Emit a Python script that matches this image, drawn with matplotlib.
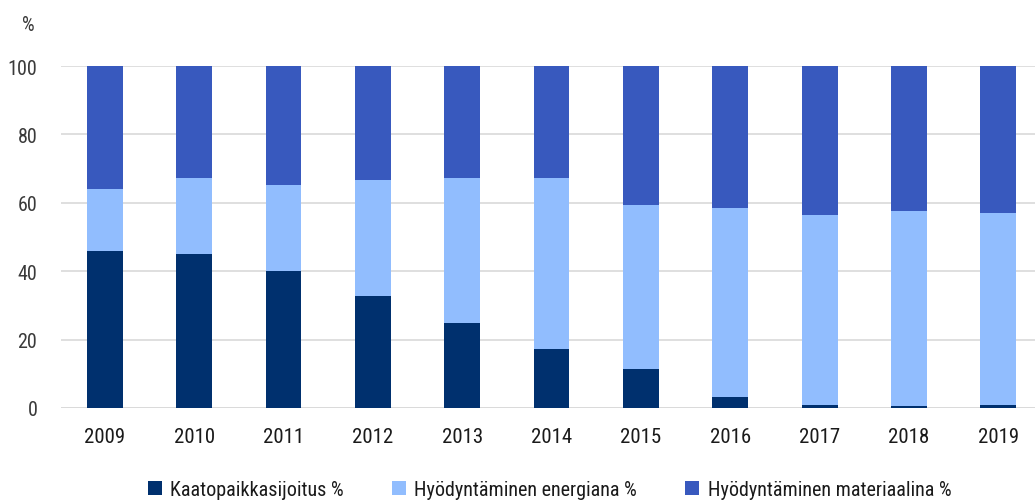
import matplotlib
matplotlib.use("Agg")
import matplotlib.pyplot as plt
import numpy as np

years = ["2009", "2010", "2011", "2012", "2013", "2014", "2015", "2016", "2017", "2018", "2019"]
kaatopaikka = [45.9, 45.0, 40.1, 32.7, 24.9, 17.3, 11.4, 3.2, 0.9, 0.6, 0.9]
energia = [18.1, 22.3, 25.1, 34.0, 42.4, 50.0, 48.0, 55.3, 55.5, 57.0, 56.1]
materiaali = [100 - a - b for a, b in zip(kaatopaikka, energia)]
series_names = ["Kaatopaikkasijoitus %", "Hyödyntäminen energiana %", "Hyödyntäminen materiaalina %"]
colors = ["#00306e", "#91bdfe", "#3859be"]
yticks = [0, 20, 40, 60, 80, 100]

plt.rcParams["font.family"] = ["Roboto Condensed", "DejaVu Sans"]

fig = plt.figure(figsize=(10.35, 5.02), dpi=100)
ax = fig.add_axes([0.0589, 0.1853, 0.9411, 0.6812])

x = np.arange(len(years))
w = 0.4
bottom = np.zeros(len(years))
for vals, c, n in zip([kaatopaikka, energia, materiaali], colors, series_names):
    ax.bar(x, vals, w, bottom=bottom, color=c, label=n, zorder=3)
    bottom += np.array(vals)

ax.set_xlim(-0.49, 10.41)
ax.set_ylim(0, 100)
ax.set_yticks(yticks)
ax.set_yticklabels([str(t) for t in yticks], fontsize=14.5, color="#3a3a3a")
ax.set_xticks(x)
ax.set_xticklabels(years, fontsize=15, color="#1a1a1a")
ax.tick_params(axis="y", length=0, pad=17)
ax.tick_params(axis="x", length=0, pad=14)
ax.grid(axis="y", color="#d9d9d9", linewidth=1.2, zorder=0)
ax.set_axisbelow(True)
for s in ax.spines.values():
    s.set_visible(False)
ax.axhline(0, color="#d9d9d9", linewidth=1.2, zorder=1)

fig.text(0.027, 0.95, "%", fontsize=14.5, color="#3a3a3a", ha="center", va="center")

leg = fig.legend(loc="center", bbox_to_anchor=(0.531, 0.022), ncol=3, frameon=False,
                 fontsize=14.5, handlelength=0.7, handleheight=0.7, handletextpad=0.4,
                 columnspacing=2.4, borderpad=0.2)
for t in leg.get_texts():
    t.set_color("#1a1a1a")

fig.savefig("out.png", dpi=100)
